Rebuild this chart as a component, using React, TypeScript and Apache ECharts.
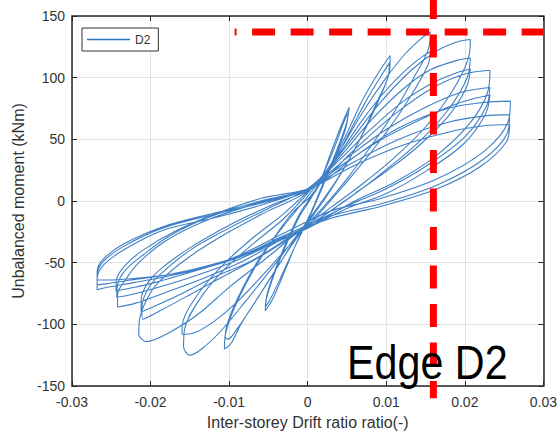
import { useEffect, useRef } from 'react';
import * as echarts from 'echarts';

// Hysteresis cycles [drift ratio, moment kNm]
const cycleA1 = [[0, 0], [0.0015, 15], [0.003, 40], [0.0042, 60], [0.005, 72], [0.0053, 76], [0.0049, 62], [0.0035, 38], [0.002, 15], [0.0005, -8], [-0.0015, -35], [-0.003, -58], [-0.0045, -80], [-0.0054, -89], [-0.0052, -78], [-0.004, -55], [-0.0025, -32], [-0.001, -12]];
const cycleA2 = [[0.0005, 3], [0.002, 22], [0.0035, 45], [0.0046, 64], [0.0052, 72], [0.0048, 58], [0.0033, 33], [0.0018, 10], [0.0003, -12], [-0.0017, -38], [-0.0035, -63], [-0.0048, -80], [-0.0054, -86], [-0.0051, -74], [-0.0038, -50], [-0.0022, -26], [-0.0008, -8]];
const cycleB1 = [[0.001, 8], [0.003, 30], [0.005, 55], [0.007, 82], [0.009, 104], [0.0105, 118], [0.0104, 105], [0.0088, 80], [0.0068, 52], [0.0045, 25], [0.002, 0], [-0.0005, -22], [-0.003, -45], [-0.006, -75], [-0.0085, -100], [-0.0098, -116], [-0.0106, -120], [-0.0104, -106], [-0.009, -82], [-0.0068, -55], [-0.0045, -32], [-0.002, -10]];
const cycleB2 = [[0.0005, 5], [0.003, 28], [0.0055, 58], [0.0075, 82], [0.0092, 100], [0.0104, 112], [0.0102, 100], [0.0085, 74], [0.0065, 48], [0.004, 20], [0.0015, -3], [-0.001, -25], [-0.0035, -50], [-0.0065, -80], [-0.0088, -102], [-0.0102, -112], [-0.0105, -110], [-0.0101, -97], [-0.0087, -76], [-0.0065, -50], [-0.004, -28], [-0.0015, -8]];
const cycleC1 = [[0.001, 12], [0.004, 40], [0.007, 72], [0.01, 100], [0.0125, 120], [0.0145, 132], [0.0156, 137], [0.0154, 124], [0.0135, 100], [0.011, 72], [0.008, 44], [0.005, 18], [0.002, -5], [-0.001, -25], [-0.004, -50], [-0.008, -82], [-0.011, -105], [-0.0135, -120], [-0.015, -125], [-0.0158, -118], [-0.0157, -105], [-0.014, -82], [-0.011, -58], [-0.007, -35], [-0.003, -14]];
const cycleC2 = [[0.0005, 10], [0.004, 38], [0.007, 66], [0.01, 90], [0.0128, 108], [0.0148, 118], [0.0156, 121], [0.0153, 110], [0.0132, 86], [0.0105, 60], [0.0075, 35], [0.0045, 12], [0.0015, -10], [-0.0015, -30], [-0.005, -55], [-0.009, -82], [-0.012, -98], [-0.0145, -107], [-0.016, -108], [-0.0158, -96], [-0.0138, -74], [-0.0105, -50], [-0.007, -30], [-0.003, -10]];
const cycleD1 = [[0.001, 14], [0.005, 45], [0.009, 78], [0.013, 105], [0.0165, 122], [0.019, 129], [0.0207, 131], [0.0205, 117], [0.0185, 90], [0.015, 60], [0.011, 35], [0.007, 14], [0.003, -5], [-0.001, -24], [-0.005, -45], [-0.01, -70], [-0.014, -92], [-0.018, -108], [-0.0205, -114], [-0.0215, -108], [-0.0214, -96], [-0.0205, -80], [-0.019, -66], [-0.015, -45], [-0.01, -25], [-0.005, -8]];
const cycleD2 = [[0, 8], [0.004, 35], [0.008, 65], [0.012, 90], [0.0155, 106], [0.019, 114], [0.0207, 116], [0.0203, 100], [0.018, 75], [0.0145, 50], [0.0105, 28], [0.0065, 8], [0.0025, -10], [-0.0015, -27], [-0.006, -45], [-0.011, -62], [-0.015, -76], [-0.0185, -88], [-0.021, -96], [-0.0211, -86], [-0.0202, -70], [-0.0185, -58], [-0.015, -40], [-0.01, -22], [-0.005, -6]];
const cycleD3 = [[0, 10], [0.004, 33], [0.008, 58], [0.012, 80], [0.016, 96], [0.019, 104], [0.0207, 107], [0.0202, 92], [0.0178, 68], [0.014, 44], [0.01, 24], [0.006, 6], [0.002, -12], [-0.002, -28], [-0.007, -48], [-0.012, -62], [-0.016, -75], [-0.019, -84], [-0.0212, -90], [-0.0212, -80], [-0.0203, -66], [-0.0185, -54], [-0.0145, -36], [-0.0095, -18], [-0.0045, -3]];
const cycleE1 = [[0.001, 12], [0.006, 42], [0.011, 70], [0.016, 92], [0.02, 103], [0.0232, 106], [0.0229, 88], [0.0205, 62], [0.016, 35], [0.011, 15], [0.006, 0], [0.001, -18], [-0.003, -30], [-0.008, -48], [-0.013, -62], [-0.018, -74], [-0.022, -83], [-0.0242, -86], [-0.0242, -76], [-0.0232, -64], [-0.0215, -50], [-0.018, -32], [-0.013, -16], [-0.007, -3]];
const cycleE2 = [[0, 10], [0.005, 35], [0.01, 58], [0.015, 76], [0.0195, 88], [0.0232, 92], [0.0227, 76], [0.02, 52], [0.015, 28], [0.01, 10], [0.005, -4], [0, -20], [-0.004, -33], [-0.009, -48], [-0.014, -60], [-0.019, -70], [-0.0225, -76], [-0.0243, -78], [-0.0242, -68], [-0.0232, -56], [-0.021, -44], [-0.0175, -28], [-0.0125, -13], [-0.006, 0]];
const cycleE3 = [[0, 10], [0.005, 32], [0.01, 52], [0.015, 68], [0.0195, 80], [0.0232, 86], [0.0226, 70], [0.0198, 46], [0.015, 24], [0.01, 6], [0.005, -6], [0, -22], [-0.005, -36], [-0.01, -48], [-0.015, -58], [-0.02, -67], [-0.0228, -71], [-0.0244, -73], [-0.0243, -63], [-0.0232, -52], [-0.021, -40], [-0.017, -25], [-0.012, -11], [-0.006, 2]];
const cycleF1 = [[0.001, 12], [0.006, 36], [0.0115, 59], [0.0178, 75], [0.0225, 80], [0.0258, 81], [0.0255, 64], [0.0224, 40], [0.0165, 18], [0.0093, 2], [0.003, -8], [-0.003, -26], [-0.008, -42], [-0.012, -52], [-0.017, -60], [-0.022, -66], [-0.0255, -70], [-0.0268, -72], [-0.0268, -63], [-0.026, -52], [-0.0235, -40], [-0.0185, -24], [-0.0121, -14], [-0.0058, -3]];
const cycleF2 = [[0, 10], [0.006, 32], [0.012, 51], [0.018, 64], [0.0225, 69], [0.0257, 70], [0.0254, 55], [0.0222, 33], [0.0165, 13], [0.0095, -2], [0.003, -12], [-0.003, -28], [-0.008, -43], [-0.013, -53], [-0.018, -60], [-0.0225, -64], [-0.0255, -67], [-0.0268, -68], [-0.0268, -60], [-0.026, -49], [-0.0235, -37], [-0.0185, -22], [-0.012, -11], [-0.0055, -1]];
const cycleF3 = [[0, 9], [0.006, 29], [0.012, 45], [0.018, 56], [0.0225, 61], [0.0257, 62], [0.0253, 48], [0.022, 28], [0.0165, 10], [0.0095, -4], [0.003, -14], [-0.003, -29], [-0.008, -44], [-0.013, -54], [-0.018, -60], [-0.0225, -63], [-0.0255, -64], [-0.0268, -64], [-0.0268, -57], [-0.026, -47], [-0.0235, -35], [-0.0185, -21], [-0.012, -10], [-0.0055, 0], [0, 8]];

const seriesName = 'D2';
const xAxisName = 'Inter-storey Drift ratio ratio(-)';
const yAxisName = 'Unbalanced moment (kNm)';
const xRange = [-0.03, 0.03, 0.01];
const yRange = [-150, 150, 50];

// Red dashed reference lines (data coordinates)
const redX = 0.016;
const redY = 137;
const redHStart = -0.0093;
const redVTop = 163;
const redVBottom = -160;
const annotation = 'Edge D2';

export default function App() {
  const ref = useRef<HTMLDivElement>(null);
  useEffect(() => {
    const chart = echarts.init(ref.current!, null, { renderer: 'svg' });
    const data = [
      ...cycleA1, ...cycleA2, ...cycleB1, ...cycleB2, ...cycleC1, ...cycleC2,
      ...cycleD1, ...cycleD2, ...cycleD3, ...cycleE1, ...cycleE2, ...cycleE3,
      ...cycleF1, ...cycleF2, ...cycleF3,
    ];
    const font = 'Liberation Sans, Arial, sans-serif';
    const axisLine = { show: true, onZero: false, lineStyle: { color: '#262626', width: 1.5 } };
    const axisTick = { inside: true, length: 5, lineStyle: { color: '#262626' } };
    chart.setOption({
      animation: false,
      backgroundColor: '#fff',
      grid: { left: 72, right: 12, top: 16, bottom: 45 },
      legend: {
        left: 82, top: 28,
        data: [{ name: seriesName, icon: 'rect' }],
        itemWidth: 43, itemHeight: 1.3, itemGap: 5,
        padding: [5, 8, 5, 5],
        borderColor: '#333', borderWidth: 1, backgroundColor: '#fff',
        textStyle: { fontSize: 12, color: '#333', fontFamily: font, lineHeight: 13 },
      },
      xAxis: [
        {
          type: 'value', min: xRange[0], max: xRange[1], interval: xRange[2],
          name: xAxisName, nameLocation: 'middle', nameGap: 28,
          nameTextStyle: { fontSize: 16, color: '#333', fontFamily: font },
          axisLine, axisTick,
          axisLabel: { fontSize: 14, color: '#333', fontFamily: font, margin: 9, formatter: (v: number) => String(+v.toFixed(2)) },
          splitLine: { show: true, lineStyle: { color: '#e3e3e3', width: 1 } },
        },
        {
          type: 'value', position: 'top', min: xRange[0], max: xRange[1], interval: xRange[2],
          axisLine, axisTick,
          axisLabel: { show: false }, splitLine: { show: false },
        },
      ],
      yAxis: [
        {
          type: 'value', min: yRange[0], max: yRange[1], interval: yRange[2],
          name: yAxisName, nameLocation: 'middle', nameGap: 43,
          nameTextStyle: { fontSize: 16, color: '#333', fontFamily: font },
          axisLine, axisTick,
          axisLabel: { fontSize: 14, color: '#333', fontFamily: font, margin: 7 },
          splitLine: { show: true, lineStyle: { color: '#e3e3e3', width: 1 } },
        },
        {
          type: 'value', position: 'right', min: yRange[0], max: yRange[1], interval: yRange[2],
          axisLine, axisTick,
          axisLabel: { show: false }, splitLine: { show: false },
        },
      ],
      series: [
        {
          name: seriesName, type: 'line', data, symbol: 'none', smooth: 0.35,
          lineStyle: { color: '#2a72c0', width: 1.1, opacity: 0.9 },
          itemStyle: { color: '#2a72c0' },
        },
      ],
    });
    const hA = chart.convertToPixel({ gridIndex: 0 }, [redHStart, redY]) as number[];
    const hB = chart.convertToPixel({ gridIndex: 0 }, [xRange[1], redY]) as number[];
    const vA = chart.convertToPixel({ gridIndex: 0 }, [redX, redVTop]) as number[];
    const vB = chart.convertToPixel({ gridIndex: 0 }, [redX, redVBottom]) as number[];
    chart.setOption({
      graphic: [
        {
          type: 'line', z: 100, silent: true,
          shape: { x1: hA[0], y1: hA[1], x2: hB[0], y2: hB[1] },
          style: { stroke: '#ff0000', lineWidth: 7, lineDash: [23, 15.5], lineDashOffset: 21 },
        },
        {
          type: 'line', z: 100, silent: true,
          shape: { x1: vA[0], y1: vA[1], x2: vB[0], y2: vB[1] },
          style: { stroke: '#ff0000', lineWidth: 7, lineDash: [23, 15.5], lineDashOffset: 4 },
        },
        {
          type: 'text', z: 101, silent: true, x: 347, y: 362, scaleX: 0.86,
          style: {
            text: annotation, fill: '#000', fontSize: 48,
            fontFamily: 'Liberation Sans, Arial, sans-serif',
            verticalAlign: 'middle', align: 'left',
          },
        },
      ],
    });
    return () => chart.dispose();
  }, []);
  return <div ref={ref} style={{ position: 'absolute', left: 0, top: 0, width: 560, height: 435 }} />;
}
